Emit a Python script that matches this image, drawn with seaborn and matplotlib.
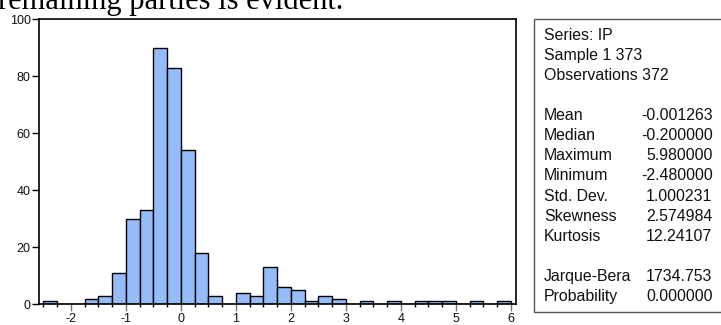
import numpy as np
import pandas as pd
import seaborn as sns
import matplotlib.pyplot as plt
from matplotlib.patches import Rectangle
from matplotlib.ticker import MultipleLocator

sns.set_style("white")
plt.rcParams['font.family'] = ['Liberation Sans', 'DejaVu Sans']
plt.rcParams['axes.unicode_minus'] = False

# histogram of IP, bin width 0.25 starting at -2.5
bin_start = -2.5
bin_width = 0.25
counts = [1, 0, 0, 2, 3, 11, 30, 33, 90, 83, 54, 18, 3, 0, 4, 3, 13,
          6, 5, 1, 3, 2, 0, 1, 0, 1, 0, 1, 1, 1, 0, 1, 0, 1]

stat_labels = ["Series: IP", "Sample 1 373", "Observations 372", "",
               "Mean", "Median", "Maximum", "Minimum", "Std. Dev.",
               "Skewness", "Kurtosis", "", "Jarque-Bera", "Probability"]
stat_values = ["", "", "", "",
               "-0.001263", "-0.200000", "5.980000", "-2.480000", "1.000231",
               "2.574984", "12.24107", "", "1734.753", "0.000000"]

edges = bin_start + bin_width * np.arange(len(counts) + 1)
df = pd.DataFrame({'ip': (edges[:-1] + edges[1:]) / 2, 'n': counts})

W, H = 721, 325
fig = plt.figure(figsize=(W / 100, H / 100), dpi=100)
ax = fig.add_axes([39 / W, 1 - 304.3 / H, (515.7 - 39) / W, (304.3 - 19) / H])

sns.histplot(data=df, x='ip', weights='n', binwidth=bin_width, binrange=(edges[0], edges[-1]),
             ax=ax, color='#95bcf9', alpha=1, edgecolor='black', linewidth=1)

ax.set_xlim(-2.58, 6.09)
ax.set_ylim(0, 100)
ax.set_xlabel("")
ax.set_ylabel("")
ax.xaxis.set_major_locator(MultipleLocator(1))
ax.xaxis.set_minor_locator(MultipleLocator(0.25))
ax.yaxis.set_major_locator(MultipleLocator(20))
ax.tick_params(axis='x', which='major', direction='out', length=5, width=1,
               color='#777777', labelsize=9, pad=1.5, labelcolor='#111111', bottom=True)
ax.tick_params(axis='x', which='minor', direction='out', length=2.5, width=1,
               color='black', bottom=True)
ax.tick_params(axis='y', which='major', direction='out', length=5, width=1,
               color='black', labelsize=9, pad=1, labelcolor='#111111', left=True)
for s in ax.spines.values():
    s.set_color('black')
    s.set_linewidth(1.2)

# stats box
box = Rectangle((534.3 / W, 1 - 311.7 / H), 0.5, (311.7 - 19) / H,
                transform=fig.transFigure, fill=False, edgecolor='#555555', lw=1)
fig.add_artist(box)
for i, (lab, val) in enumerate(zip(stat_labels, stat_values)):
    y = 1 - (35.7 + i * 20.04) / H
    fig.text(544 / W, y, lab, fontsize=11.4, va='center', ha='left', color='#111111')
    if val:
        x = 646 if not val.startswith('-') else 641.5
        fig.text(x / W, y, val, fontsize=11.4, va='center', ha='left', color='#111111')

# cropped page text above the chart
fig.text(-2 / W, 1 - 8.5 / H, "remaining parties is evident.", fontsize=22,
         family=['Liberation Serif', 'DejaVu Serif'], va='baseline', ha='left', color='black')

fig.savefig("out.png", dpi=100)
